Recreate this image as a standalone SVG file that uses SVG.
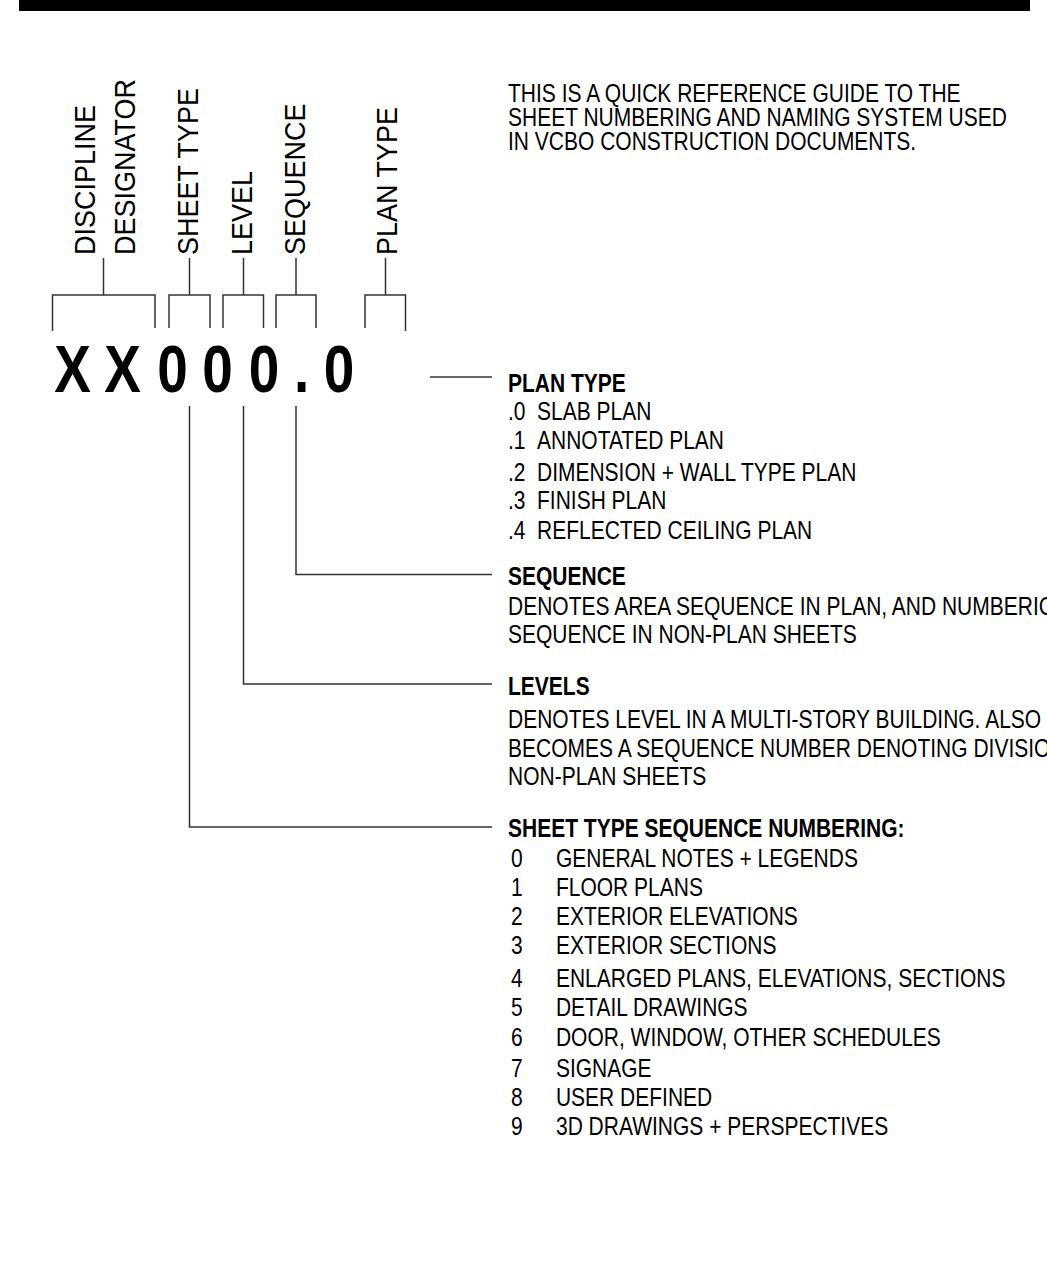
<svg xmlns="http://www.w3.org/2000/svg" width="1047" height="1285" viewBox="0 0 1047 1285">
<style>
.lbl{font-family:"Liberation Sans",Arial,sans-serif;font-size:30px;fill:#000}
.code{font-family:"Liberation Sans",Arial,sans-serif;font-weight:bold;font-size:67px;fill:#000;text-anchor:middle}
.t{font-family:"Liberation Sans",Arial,sans-serif;font-size:25px;fill:#000}
.h{font-weight:bold}
.ln{stroke:#333;stroke-width:1.5;fill:none}
</style>
<rect x="0" y="0" width="1047" height="1285" fill="#fff"/>
<rect id="topbar" x="19" y="0" width="1011" height="11" fill="#000"/>

<g id="label-discipline">
<text class="lbl" transform="translate(95,255) rotate(-90) scale(0.9,1)">DISCIPLINE</text>
<text class="lbl" transform="translate(135,255) rotate(-90) scale(0.9,1)">DESIGNATOR</text>
<path class="ln" d="M52.5,331 V295 H155 V328 M103.5,295 V258"/>
</g>
<g id="label-sheettype">
<text class="lbl" transform="translate(198,255) rotate(-90) scale(0.9,1)">SHEET TYPE</text>
<path class="ln" d="M169,328 V295 H210 V328 M189.5,295 V258"/>
</g>
<g id="label-level">
<text class="lbl" transform="translate(251.5,255) rotate(-90) scale(0.9,1)">LEVEL</text>
<path class="ln" d="M223,328 V295 H263.5 V328 M243.5,295 V258"/>
</g>
<g id="label-sequence">
<text class="lbl" transform="translate(304.5,255) rotate(-90) scale(0.9,1)">SEQUENCE</text>
<path class="ln" d="M276,328 V295 H316 V328 M296,295 V258"/>
</g>
<g id="label-plantype">
<text class="lbl" transform="translate(396.5,255) rotate(-90) scale(0.9,1)">PLAN TYPE</text>
<path class="ln" d="M365,328 V295 H405.5 V331 M385.5,295 V258"/>
</g>

<g id="code">
<text class="code" transform="translate(72.5,392) scale(0.82,1)">X</text>
<text class="code" transform="translate(122.5,392) scale(0.82,1)">X</text>
<text class="code" transform="translate(172.5,392) scale(0.82,1)">0</text>
<text class="code" transform="translate(217.5,392) scale(0.82,1)">0</text>
<text class="code" transform="translate(264,392) scale(0.82,1)">0</text>
<text class="code" transform="translate(301.7,392) scale(0.82,1)">.</text>
<text class="code" transform="translate(339,392) scale(0.82,1)">0</text>
</g>

<g id="connectors">
<path class="ln" d="M430,377 H492"/>
<path class="ln" d="M296,406 V574.5 H492"/>
<path class="ln" d="M243.5,406 V684 H492"/>
<path class="ln" d="M189.5,406 V827 H492"/>
</g>

<g id="intro" transform="translate(508,0) scale(0.84,1)">
<text class="t" x="0" y="102">THIS IS A QUICK REFERENCE GUIDE TO THE</text>
<text class="t" x="0" y="126">SHEET NUMBERING AND NAMING SYSTEM USED</text>
<text class="t" x="0" y="150">IN VCBO CONSTRUCTION DOCUMENTS.</text>
</g>

<g id="desc-plantype" transform="translate(508,0) scale(0.84,1)">
<text class="t h" x="0" y="392">PLAN TYPE</text>
<text class="t" y="420"><tspan x="0">.0</tspan><tspan x="34.5">SLAB PLAN</tspan></text>
<text class="t" y="449"><tspan x="0">.1</tspan><tspan x="34.5">ANNOTATED PLAN</tspan></text>
<text class="t" y="481"><tspan x="0">.2</tspan><tspan x="34.5">DIMENSION + WALL TYPE PLAN</tspan></text>
<text class="t" y="509"><tspan x="0">.3</tspan><tspan x="34.5">FINISH PLAN</tspan></text>
<text class="t" y="539"><tspan x="0">.4</tspan><tspan x="34.5">REFLECTED CEILING PLAN</tspan></text>
</g>

<g id="desc-sequence" transform="translate(508,0) scale(0.84,1)">
<text class="t h" x="0" y="585">SEQUENCE</text>
<text class="t" x="0" y="615">DENOTES AREA SEQUENCE IN PLAN, AND NUMBERIC</text>
<text class="t" x="0" y="643">SEQUENCE IN NON-PLAN SHEETS</text>
</g>

<g id="desc-levels" transform="translate(508,0) scale(0.84,1)">
<text class="t h" x="0" y="695">LEVELS</text>
<text class="t" x="0" y="728">DENOTES LEVEL IN A MULTI-STORY BUILDING. ALSO</text>
<text class="t" x="0" y="757">BECOMES A SEQUENCE NUMBER DENOTING DIVISIO</text>
<text class="t" x="0" y="785">NON-PLAN SHEETS</text>
</g>

<g id="desc-sheettype" transform="translate(508,0) scale(0.84,1)">
<text class="t h" x="0" y="837">SHEET TYPE SEQUENCE NUMBERING:</text>
<text class="t" y="867"><tspan x="3.6">0</tspan><tspan x="57.1">GENERAL NOTES + LEGENDS</tspan></text>
<text class="t" y="896"><tspan x="3.6">1</tspan><tspan x="57.1">FLOOR PLANS</tspan></text>
<text class="t" y="925"><tspan x="3.6">2</tspan><tspan x="57.1">EXTERIOR ELEVATIONS</tspan></text>
<text class="t" y="954"><tspan x="3.6">3</tspan><tspan x="57.1">EXTERIOR SECTIONS</tspan></text>
<text class="t" y="987"><tspan x="3.6">4</tspan><tspan x="57.1">ENLARGED PLANS, ELEVATIONS, SECTIONS</tspan></text>
<text class="t" y="1016"><tspan x="3.6">5</tspan><tspan x="57.1">DETAIL DRAWINGS</tspan></text>
<text class="t" y="1046"><tspan x="3.6">6</tspan><tspan x="57.1">DOOR, WINDOW, OTHER SCHEDULES</tspan></text>
<text class="t" y="1077"><tspan x="3.6">7</tspan><tspan x="57.1">SIGNAGE</tspan></text>
<text class="t" y="1106"><tspan x="3.6">8</tspan><tspan x="57.1">USER DEFINED</tspan></text>
<text class="t" y="1135"><tspan x="3.6">9</tspan><tspan x="57.1">3D DRAWINGS + PERSPECTIVES</tspan></text>
</g>
</svg>
